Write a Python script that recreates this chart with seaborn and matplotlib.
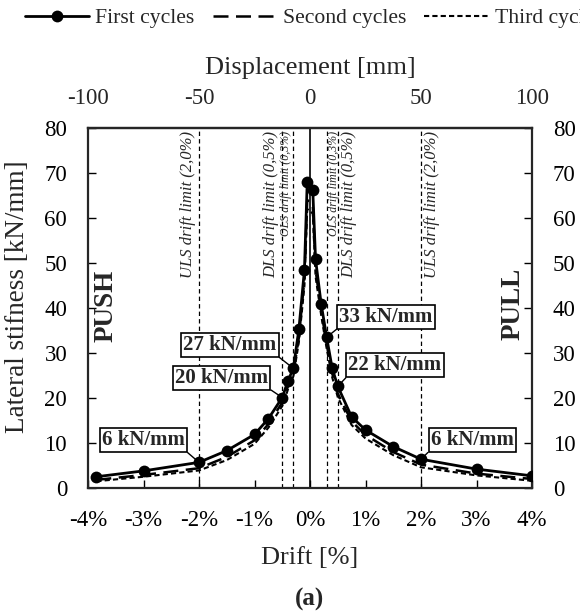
import numpy as np
import pandas as pd
import matplotlib
matplotlib.use("Agg")
import matplotlib.pyplot as plt
from matplotlib.lines import Line2D
import seaborn as sns


# ---------------------------------------------------------------------------
# Data
# ---------------------------------------------------------------------------

drift = [-3.85, -3.0, -2.0, -1.5, -1.0, -0.75, -0.5, -0.4, -0.3, -0.2, -0.1, -0.05,
         0.05, 0.1, 0.2, 0.3, 0.4, 0.5, 0.75, 1.0, 1.5, 2.0, 3.0, 4.0]
first_cycles = [2.5, 3.8, 5.7, 8.3, 11.9, 15.4, 20.1, 23.7, 26.6, 35.3, 48.5, 68.1,
                66.2, 50.8, 41.0, 33.5, 26.6, 22.6, 15.8, 12.9, 9.2, 6.4, 4.2, 2.7]
second_cycles = [1.8, 2.9, 4.4, 6.9, 10.6, 14.2, 19.0, 22.5, 25.5, 33.5, 46.5, 64.0,
                 63.0, 48.5, 39.5, 32.0, 25.5, 21.0, 14.8, 11.8, 8.0, 5.2, 3.2, 2.0]
third_cycles = [1.5, 2.5, 3.9, 6.2, 9.8, 13.4, 18.2, 21.8, 24.8, 32.5, 45.0, 62.0,
                61.0, 47.0, 38.5, 31.0, 24.6, 20.2, 14.0, 11.0, 7.3, 4.6, 2.8, 1.6]

# drift limits [%] and their labels
limit_drifts = [-2.0, -0.5, -0.3, 0.3, 0.5, 2.0]
limit_labels = ["ULS drift limit (2,0%)", "DLS drift limit (0,5%)", "OLS drift limit (0,3%)",
                "OLS drift limit (0,3%)", "DLS drift limit (0,5%)", "ULS drift limit (2,0%)"]

# stiffness callouts: text, target drift, target stiffness, box position
callout_text = ["6 kN/mm", "20 kN/mm", "27 kN/mm", "33 kN/mm", "22 kN/mm", "6 kN/mm"]
callout_x = [-2.0, -0.5, -0.3, 0.3, 0.5, 2.0]
callout_y = [5.7, 20.1, 26.6, 33.5, 22.6, 6.4]
box_x = [-3.00, -1.59, -1.44, 1.37, 1.53, 2.92]
box_y = [10.6, 24.4, 31.7, 38.0, 27.3, 10.7]

drift_ticks = [-4, -3, -2, -1, 0, 1, 2, 3, 4]
disp_ticks = [-100, -50, 0, 50, 100]
mm_per_percent = 25.0


# ---------------------------------------------------------------------------
# Style
# ---------------------------------------------------------------------------

sns.set_theme(style="ticks")
plt.rcParams["font.family"] = ["Liberation Serif", "DejaVu Serif"]
plt.rcParams["axes.linewidth"] = 1.6
plt.rcParams["axes.unicode_minus"] = False

fig = plt.figure(figsize=(5.8, 6.11), dpi=100)
ax = fig.add_axes([88 / 580, 1 - 488 / 611, 444 / 580, 360 / 611])

# vertical reference lines
ax.axvline(0, color="black", lw=1.2, zorder=1)
for xv in limit_drifts:
    ax.axvline(xv, color="black", lw=0.9, ls=(0, (3.5, 2.5)), zorder=1)

# cycles
sns.lineplot(x=drift, y=third_cycles, sort=False, ax=ax, color="black", lw=1.5, zorder=2)
ax.lines[-1].set_dashes((2.5, 1.5))
sns.lineplot(x=drift, y=second_cycles, sort=False, ax=ax, color="black", lw=1.8, zorder=2)
ax.lines[-1].set_dashes((6, 3))
sns.lineplot(x=drift, y=first_cycles, sort=False, ax=ax, color="black", lw=2.0,
             marker="o", markersize=8.5, markeredgewidth=0, zorder=3)

# limit labels
for xv, lab in zip(limit_drifts, limit_labels):
    small = lab.startswith("OLS")
    off = 0.03 if small else 0.06
    if xv < 0:
        ax.text(xv - off, 79.4, lab, rotation=90, ha="right", va="top",
                style="italic", fontsize=8.6 if small else 12)
    else:
        ax.text(xv + off, 79.4, lab, rotation=90, ha="left", va="top",
                style="italic", fontsize=8.6 if small else 12)

# stiffness callouts
for txt, px, py, bx, by in zip(callout_text, callout_x, callout_y, box_x, box_y):
    rel = (1, 0) if px < 0 else (0, 0)
    ax.annotate(txt, xy=(px, py), xytext=(bx, by), ha="center", va="center",
                fontsize=15, fontweight="bold",
                bbox=dict(boxstyle="square,pad=0.1", fc="white", ec="black", lw=1.2),
                arrowprops=dict(arrowstyle="-", color="black", lw=1.0,
                                relpos=rel, shrinkA=0, shrinkB=0),
                zorder=5)

ax.text(-3.68, 40.4, "PUSH", rotation=90, ha="center", va="center",
        fontsize=19.5, fontweight="bold")
ax.text(3.66, 41.0, "PULL", rotation=90, ha="center", va="center",
        fontsize=19.5, fontweight="bold")

# axes
ax.set_xlim(-4, 4)
ax.set_ylim(0, 80)
ax.set_xticks(drift_ticks)
ax.set_xticklabels([f"{t}%" for t in drift_ticks])
ax.set_yticks(range(0, 81, 10))
ax.tick_params(axis="both", direction="in", length=6, width=1.0, labelsize=16.5,
               colors="black")
ax.tick_params(axis="x", pad=16)
ax.tick_params(axis="y", pad=15, right=True, labelright=True)
ax.set_xlabel("Drift [%]", fontsize=19, labelpad=11)
ax.set_ylabel("Lateral stifness [kN/mm]", fontsize=19.5)
ax.yaxis.set_label_coords(-0.131, 0.532)
ax.grid(False)

top = ax.secondary_xaxis("top", functions=(lambda x: x * mm_per_percent,
                                           lambda x: x / mm_per_percent))
top.set_xticks(disp_ticks)
top.tick_params(length=0, labelsize=16.5, pad=14)
top.set_xlabel("Displacement [mm]", fontsize=19, labelpad=10)

# legend across the top (runs off the right edge like the original)
handles = [
    Line2D([], [], color="black", lw=2.0, marker="o", markersize=8.5, markeredgewidth=0),
    Line2D([], [], color="black", lw=1.8, dashes=(6, 3)),
    Line2D([], [], color="black", lw=1.5, dashes=(2.5, 1.5)),
]
fig.legend(handles, ["First cycles", "Second cycles", "Third cycles"],
           loc="center left", bbox_to_anchor=(25 / 580, 1 - 18 / 611), ncol=3,
           frameon=False, fontsize=15.6, handlelength=2.95, handletextpad=0.3,
           columnspacing=0.83, borderpad=0, borderaxespad=0)

fig.text(310 / 580, 1 - 599 / 611, "(a)", ha="center", va="center",
         fontsize=18, fontweight="bold")

fig.savefig("out.png", dpi=100)
